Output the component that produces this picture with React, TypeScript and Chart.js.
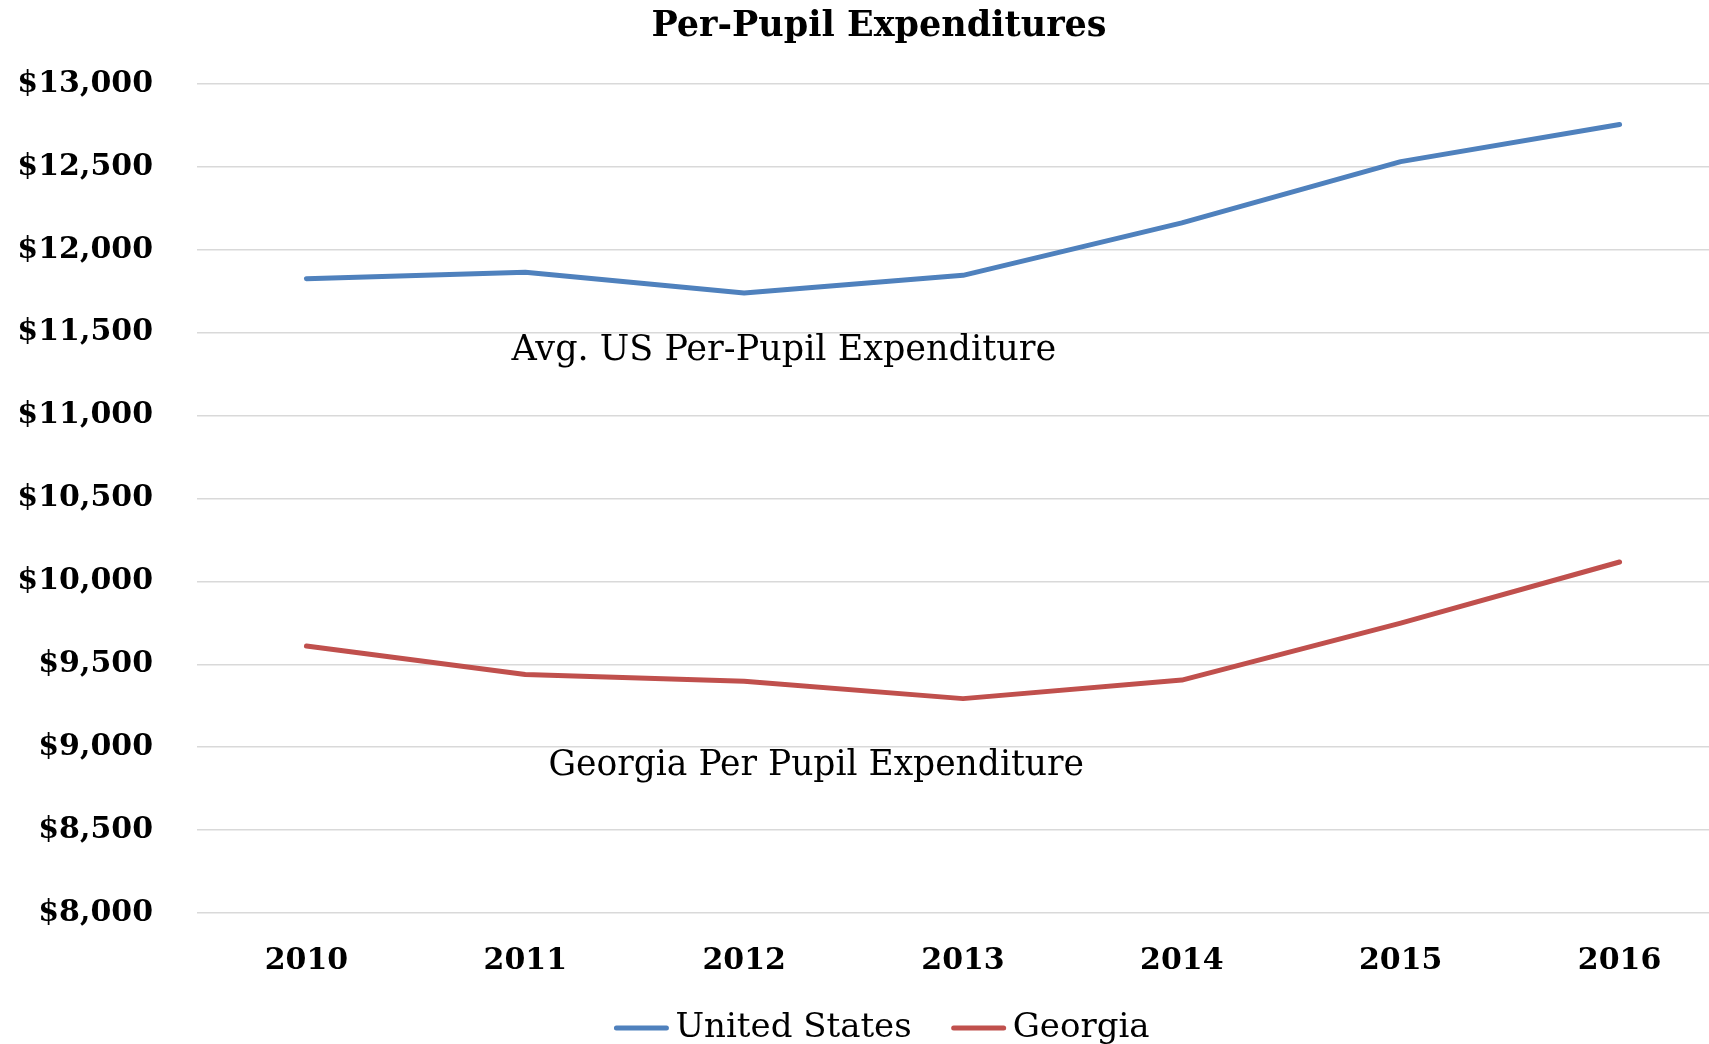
import React, { useEffect, useRef } from 'react';
import { Chart, registerables } from 'chart.js';

Chart.register(...registerables);

// ---- data ----
const years = ['2010', '2011', '2012', '2013', '2014', '2015', '2016'];
const usValues = [11826, 11865, 11740, 11846, 12162, 12532, 12756];
const georgiaValues = [9610, 9438, 9398, 9293, 9405, 9748, 10117];
const seriesNames = ['United States', 'Georgia'];
const seriesColors = ['#4F81BD', '#C0504D'];
const yMin = 8000;
const yMax = 13000;
const yStep = 500;
const chartTitle = 'Per-Pupil Expenditures';
// annotation labels: [text, category index (fractional), value]
const annotationTexts = ['Avg. US Per-Pupil Expenditure', 'Georgia Per Pupil Expenditure'];
const annotationIndex = [0.937, 1.106];
const annotationValue = [11390, 8884];

const FONT = "'DejaVu Serif', serif";

const overlayPlugin = {
  id: 'overlay',
  afterDraw(chart: any) {
    const ctx = chart.ctx;
    const xs = chart.scales.x;
    const ys = chart.scales.y;
    ctx.save();
    // title
    ctx.fillStyle = '#000';
    ctx.font = `bold 35px ${FONT}`;
    ctx.textAlign = 'center';
    ctx.textBaseline = 'middle';
    ctx.fillText(chartTitle, chart.width / 2, 27);
    // annotations
    annotationTexts.forEach((t, i) => {
      ctx.font = `${i === 0 ? 35 : 34.5}px ${FONT}`;
      ctx.textAlign = 'left';
      ctx.fillText(t, xs.getPixelForValue(annotationIndex[i]), ys.getPixelForValue(annotationValue[i]));
    });
    // legend
    ctx.font = `34px ${FONT}`;
    ctx.textAlign = 'left';
    const lineLen = 54;
    const gap = 7;
    const itemGap = 40;
    const widths = seriesNames.map((n) => lineLen + gap + ctx.measureText(n).width);
    const total = widths.reduce((a, b) => a + b, 0) + itemGap * (seriesNames.length - 1);
    let x = chart.width / 2 - total / 2 + 3;
    const ly = 1028;
    seriesNames.forEach((n, i) => {
      ctx.strokeStyle = seriesColors[i];
      ctx.lineWidth = 5;
      ctx.lineCap = 'round';
      ctx.beginPath();
      ctx.moveTo(x + 2, ly);
      ctx.lineTo(x + lineLen - 2, ly);
      ctx.stroke();
      ctx.fillStyle = '#000';
      ctx.fillText(n, x + lineLen + gap, ly);
      x += widths[i] + itemGap;
    });
    ctx.restore();
  },
};

export default function App() {
  const ref = useRef<HTMLCanvasElement | null>(null);
  useEffect(() => {
    document.body.style.margin = '0';
    const chart = new Chart(ref.current as HTMLCanvasElement, {
      type: 'line',
      data: {
        labels: years,
        datasets: [
          {
            label: seriesNames[0],
            data: usValues,
            borderColor: seriesColors[0],
            backgroundColor: seriesColors[0],
            borderWidth: 5,
            pointRadius: 0,
            tension: 0,
            borderCapStyle: 'round',
            borderJoinStyle: 'round',
          },
          {
            label: seriesNames[1],
            data: georgiaValues,
            borderColor: seriesColors[1],
            backgroundColor: seriesColors[1],
            borderWidth: 5,
            pointRadius: 0,
            tension: 0,
            borderCapStyle: 'round',
            borderJoinStyle: 'round',
          },
        ],
      },
      options: {
        animation: false,
        responsive: true,
        maintainAspectRatio: false,
        layout: { padding: { left: 0, right: 29, top: 84, bottom: 35 } },
        plugins: {
          legend: { display: false },
          title: { display: false },
          tooltip: { enabled: false },
        },
        scales: {
          x: {
            offset: true,
            grid: { display: false, drawTicks: false },
            border: { display: false },
            ticks: {
              color: '#000',
              padding: 30,
              font: { family: FONT, size: 30, weight: 'bold' },
            },
          },
          y: {
            min: yMin,
            max: yMax,
            afterFit: (axis: any) => {
              axis.width = 197;
            },
            grid: { color: '#D9D9D9', lineWidth: 1.5, drawTicks: false },
            border: { display: false },
            ticks: {
              stepSize: yStep,
              color: '#000',
              padding: 44,
              font: { family: FONT, size: 30, weight: 'bold' },
              callback: (v: any) => '$' + Number(v).toLocaleString('en-US'),
            },
          },
        },
      },
      plugins: [overlayPlugin],
    });
    return () => chart.destroy();
  }, []);
  return (
    <div style={{ width: 1709, height: 1044, overflow: 'hidden', position: 'relative' }}>
      <div style={{ width: 1758, height: 1044, position: 'relative' }}>
        <canvas ref={ref} />
      </div>
    </div>
  );
}
